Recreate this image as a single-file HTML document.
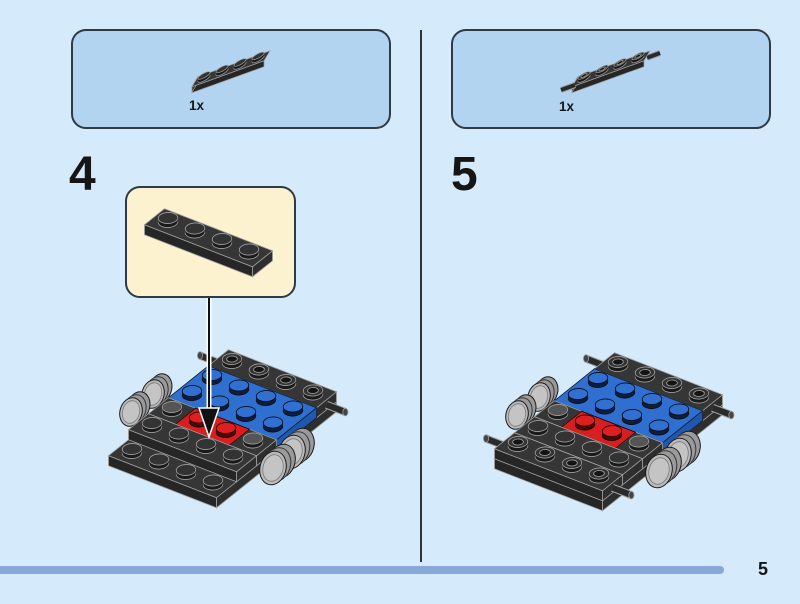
<!DOCTYPE html>
<html><head><meta charset="utf-8">
<style>
html,body{margin:0;padding:0;background:#d5eafa;}
svg{display:block}
svg *{vector-effect:non-scaling-stroke}
text{font-family:"Liberation Sans",sans-serif;font-weight:bold;fill:#161616}
</style></head><body>
<svg width="800" height="604" viewBox="0 0 800 604" xmlns="http://www.w3.org/2000/svg">
<defs>
 <circle id="c" r="1" transform="matrix(7.83 3.045 5.8 -4.64 0 0)"/>
 <circle id="ch" r="1" transform="matrix(4.3 1.67 3.2 -2.55 0 -4)"/>
 <circle id="cs" r="1" transform="matrix(5.76 -2.08 1.92 -3.2 0 0)"/>
 <circle id="chs" r="1" transform="matrix(3.0 -1.1 1.0 -1.7 0 -3)"/>

 <g id="sb" stroke-width="0.8" fill="#1a1a1a">
  <use href="#c" stroke="#a0a0a0"/><use href="#c" y="-1"/><use href="#c" y="-2"/><use href="#c" y="-3"/>
  <use href="#c" y="-4" fill="#333" stroke="#a0a0a0"/>
 </g>
 <g id="so" stroke-width="0.8" fill="#1a1a1a">
  <use href="#c" stroke="#a0a0a0"/><use href="#c" y="-1"/><use href="#c" y="-2"/><use href="#c" y="-3"/>
  <use href="#c" y="-4" fill="#333" stroke="#a0a0a0"/>
  <use href="#ch" fill="#141414" stroke="#a0a0a0"/>
 </g>
 <g id="sg" stroke-width="0.8" fill="#1a1a1a">
  <use href="#c" stroke="#a0a0a0"/><use href="#c" y="-1"/><use href="#c" y="-2"/><use href="#c" y="-3"/>
  <use href="#c" y="-4" fill="#555" stroke="#a0a0a0"/>
 </g>
 <g id="sbl" stroke-width="0.8" fill="#0c1f40">
  <use href="#c" stroke="#0b0b0b"/><use href="#c" y="-1"/><use href="#c" y="-2"/><use href="#c" y="-3"/>
  <use href="#c" y="-4" fill="#2f70d2" stroke="#0b0b0b"/>
 </g>
 <g id="sr" stroke-width="0.8" fill="#4a0808">
  <use href="#c" stroke="#1a0000"/><use href="#c" y="-1"/><use href="#c" y="-2"/><use href="#c" y="-3"/>
  <use href="#c" y="-4" fill="#dc2020" stroke="#1a0000"/>
 </g>
 <g id="ssb" stroke-width="0.7" fill="#1a1a1a">
  <use href="#cs" stroke="#a0a0a0"/><use href="#cs" y="-1"/><use href="#cs" y="-2"/>
  <use href="#cs" y="-3" fill="#333" stroke="#a0a0a0"/>
 </g>
 <g id="sso" stroke-width="0.7" fill="#1a1a1a">
  <use href="#cs" stroke="#a0a0a0"/><use href="#cs" y="-1"/><use href="#cs" y="-2"/>
  <use href="#cs" y="-3" fill="#333" stroke="#a0a0a0"/>
  <use href="#chs" fill="#141414" stroke="#a0a0a0"/>
 </g>

 <g id="wh" stroke-width="1">
  <ellipse cx="9" cy="-7" rx="13" ry="17" transform="rotate(15 9 -7)" fill="#9a9a9a" stroke="#1a1a1a"/>
  <ellipse cx="6.75" cy="-5.25" rx="13" ry="17" transform="rotate(15 6.75 -5.25)" fill="#9a9a9a"/>
  <ellipse cx="4.5" cy="-3.5" rx="13" ry="17" transform="rotate(15 4.5 -3.5)" fill="#9a9a9a" stroke="#333"/>
  <ellipse cx="2.25" cy="-1.75" rx="13" ry="17" transform="rotate(15 2.25 -1.75)" fill="#9a9a9a"/>
  <ellipse cx="0" cy="0" rx="13" ry="17" transform="rotate(15)" fill="#bababa" stroke="#1a1a1a"/>
  <ellipse cx="0" cy="0" rx="10" ry="13.5" transform="rotate(15)" fill="#c4c4c4" stroke="#777" stroke-width="0.8"/>
 </g>

 <g id="car">
  <use href="#wh" transform="translate(153,394) scale(0.85)"/>
  <use href="#wh" transform="translate(131,412) scale(0.85)"/>
  <line x1="199.6" y1="355.4" x2="218.5" y2="362.75" stroke="#a0a0a0" stroke-width="8"/>
  <line x1="199.6" y1="355.4" x2="218.5" y2="362.75" stroke="#2a2a2a" stroke-width="6"/>
  <ellipse cx="200" cy="355.5" rx="2.6" ry="3.8" fill="#444" stroke="#a0a0a0" stroke-width="0.8"/>
  <g transform="matrix(27 10.5 20 -16 172 421)">
   <rect x="-0.5" y="-2.5" width="4" height="6" fill="#363636" stroke="#a0a0a0" stroke-width="0.8"/>
  </g>
  <g transform="matrix(27 10.5 0 1 122 451)">
   <rect x="-0.5" y="10" width="4" height="10" fill="#262626" stroke="#a0a0a0" stroke-width="0.8"/>
  </g>
  <g transform="matrix(20 -16 0 1 266.5 447.75)" stroke="#a0a0a0" stroke-width="0.8">
   <rect x="-2.5" y="10" width="6" height="10" fill="#2e2e2e"/>
   <rect x="2.5" y="0" width="1" height="10" fill="#2e2e2e"/>
   <rect x="0.5" y="0" width="2" height="10" fill="#1f58ad" stroke="#0d1a33"/>
   <rect x="-0.5" y="0" width="1" height="10" fill="#2e2e2e"/>
   <rect x="-1.5" y="0" width="1" height="10" fill="#2e2e2e"/>
  </g>
  <g transform="matrix(27 10.5 20 -16 172 411)" stroke-width="0.8">
   <rect x="-0.5" y="2.5" width="4" height="1" fill="#363636" stroke="#a0a0a0"/>
   <rect x="-0.5" y="0.5" width="4" height="2" fill="#2f6fd0" stroke="#0d1a33"/>
   <rect x="-0.5" y="-0.5" width="1" height="1" fill="#363636" stroke="#a0a0a0"/>
   <rect x="2.5" y="-0.5" width="1" height="1" fill="#363636" stroke="#a0a0a0"/>
   <rect x="0.5" y="-0.5" width="2" height="1" fill="#d81e1e" stroke="#220000"/>
   <rect x="-0.5" y="-1.5" width="4" height="1" fill="#363636" stroke="#a0a0a0"/>
  </g>
  <g transform="matrix(27 10.5 0 1 142 435)">
   <rect x="-0.5" y="0" width="4" height="10" fill="#262626" stroke="#a0a0a0" stroke-width="0.8"/>
  </g>
  <use href="#so" x="232" y="363"/><use href="#so" x="259" y="373.5"/><use href="#so" x="286" y="384"/><use href="#so" x="313" y="394.5"/>
  <use href="#sbl" x="212" y="379"/><use href="#sbl" x="239" y="389.5"/><use href="#sbl" x="266" y="400"/><use href="#sbl" x="293" y="410.5"/>
  <use href="#sbl" x="192" y="395"/><use href="#sbl" x="219" y="405.5"/><use href="#sbl" x="246" y="416"/><use href="#sbl" x="273" y="426.5"/>
  <use href="#sg" x="172" y="411"/><use href="#sr" x="199" y="421.5"/><use href="#sr" x="226" y="432"/><use href="#sg" x="253" y="442.5"/>
  <use href="#sb" x="152" y="427"/><use href="#sb" x="179" y="437.5"/><use href="#sb" x="206" y="448"/><use href="#sb" x="233" y="458.5"/>
  <use href="#sb" x="132" y="453"/><use href="#sb" x="159" y="463.5"/><use href="#sb" x="186" y="474"/><use href="#sb" x="213" y="484.5"/>
  <line x1="326.5" y1="404.75" x2="345.4" y2="412.1" stroke="#a0a0a0" stroke-width="8"/>
  <line x1="326.5" y1="404.75" x2="345.4" y2="412.1" stroke="#2a2a2a" stroke-width="6"/>
  <ellipse cx="345.4" cy="412.1" rx="2.6" ry="3.8" fill="#444" stroke="#a0a0a0" stroke-width="0.8"/>
  <use href="#wh" transform="translate(292,452)"/>
  <use href="#wh" transform="translate(273,468)"/>
 </g>

 <g id="part">
  <g transform="matrix(18 -6.5 0 1 201 83.5)"><rect x="-0.5" y="0" width="4" height="6" fill="#262626" stroke="#a0a0a0" stroke-width="0.7"/></g>
  <g transform="matrix(6 -10 0 1 195 81.25)"><rect x="-0.5" y="0" width="1" height="6" fill="#2e2e2e" stroke="#a0a0a0" stroke-width="0.7"/></g>
  <g transform="matrix(18 -6.5 6 -10 204 78.5)"><rect x="-0.5" y="-0.5" width="4" height="1" fill="#363636" stroke="#a0a0a0" stroke-width="0.7"/></g>
 </g>
</defs>

<rect x="72" y="30" width="318" height="98" rx="14" fill="#b3d4f0" stroke="#2f3a45" stroke-width="2"/>
<rect x="452" y="30" width="318" height="98" rx="14" fill="#b3d4f0" stroke="#2f3a45" stroke-width="2"/>

<use href="#part"/>
<use href="#ssb" x="204" y="78.5"/><use href="#ssb" x="222" y="72"/><use href="#ssb" x="240" y="65.5"/><use href="#ssb" x="258" y="59"/>
<text x="189" y="110" font-size="13.5">1x</text>

<g transform="translate(380,0)">
 <line x1="267" y1="57.75" x2="280" y2="53" stroke="#a0a0a0" stroke-width="6"/>
 <line x1="267" y1="57.75" x2="280" y2="53" stroke="#2a2a2a" stroke-width="4"/>
 <use href="#part"/>
 <use href="#sso" x="204" y="78.5"/><use href="#sso" x="222" y="72"/><use href="#sso" x="240" y="65.5"/><use href="#sso" x="258" y="59"/>
 <line x1="195" y1="85" x2="181" y2="90" stroke="#a0a0a0" stroke-width="6"/>
 <line x1="195" y1="85" x2="181" y2="90" stroke="#2a2a2a" stroke-width="4"/>
</g>
<text x="559" y="111" font-size="13.5">1x</text>

<text x="69" y="190" font-size="48">4</text>
<text x="451" y="190" font-size="48">5</text>

<rect x="420" y="30" width="2" height="532" fill="#333"/>

<rect x="126" y="187" width="169" height="110" rx="14" fill="#fdf2cf" stroke="#2f3a45" stroke-width="2"/>
<g transform="matrix(27 10.5 0 1 158 230)"><rect x="-0.5" y="0" width="4" height="10" fill="#262626" stroke="#a0a0a0" stroke-width="0.8"/></g>
<g transform="matrix(20 -16 0 1 262.5 258.75)"><rect x="-0.5" y="0" width="1" height="10" fill="#2e2e2e" stroke="#a0a0a0" stroke-width="0.8"/></g>
<g transform="matrix(27 10.5 20 -16 168 222)"><rect x="-0.5" y="-0.5" width="4" height="1" fill="#363636" stroke="#a0a0a0" stroke-width="0.8"/></g>
<use href="#sb" x="168" y="222"/><use href="#sb" x="195" y="232.5"/><use href="#sb" x="222" y="243"/><use href="#sb" x="249" y="253.5"/>

<use href="#car"/>
<line x1="209" y1="298" x2="209" y2="412" stroke="#fff" stroke-width="5"/>
<line x1="209" y1="298" x2="209" y2="412" stroke="#111" stroke-width="2"/>
<polygon points="199,408 219,408 209,437" fill="#111" stroke="#fff" stroke-width="1.5"/>

<use href="#car" x="386" y="3"/>
<g transform="translate(386,3)">
 <line x1="99.6" y1="435.4" x2="118.5" y2="442.75" stroke="#a0a0a0" stroke-width="8"/>
 <line x1="99.6" y1="435.4" x2="118.5" y2="442.75" stroke="#2a2a2a" stroke-width="6"/>
 <ellipse cx="100" cy="435.5" rx="2.6" ry="3.8" fill="#444" stroke="#a0a0a0" stroke-width="0.8"/>
 <g transform="matrix(27 10.5 0 1 122 451)"><rect x="-0.5" y="0" width="4" height="10" fill="#262626" stroke="#a0a0a0" stroke-width="0.8"/></g>
 <g transform="matrix(20 -16 0 1 266.5 447.75)"><rect x="-2.5" y="0" width="1" height="10" fill="#2e2e2e" stroke="#a0a0a0" stroke-width="0.8"/></g>
 <g transform="matrix(27 10.5 20 -16 172 411)"><rect x="-0.5" y="-2.5" width="4" height="1" fill="#363636" stroke="#a0a0a0" stroke-width="0.8"/></g>
 <use href="#so" x="132" y="443"/><use href="#so" x="159" y="453.5"/><use href="#so" x="186" y="464"/><use href="#so" x="213" y="474.5"/>
 <line x1="226.5" y1="484.75" x2="245.4" y2="492.1" stroke="#a0a0a0" stroke-width="8"/>
 <line x1="226.5" y1="484.75" x2="245.4" y2="492.1" stroke="#2a2a2a" stroke-width="6"/>
 <ellipse cx="245.4" cy="492.1" rx="2.6" ry="3.8" fill="#444" stroke="#a0a0a0" stroke-width="0.8"/>
</g>

<rect x="-10" y="566" width="734" height="8" rx="4" fill="#87a8d8"/>
<text x="758" y="575" font-size="18">5</text>
</svg>
</body></html>
